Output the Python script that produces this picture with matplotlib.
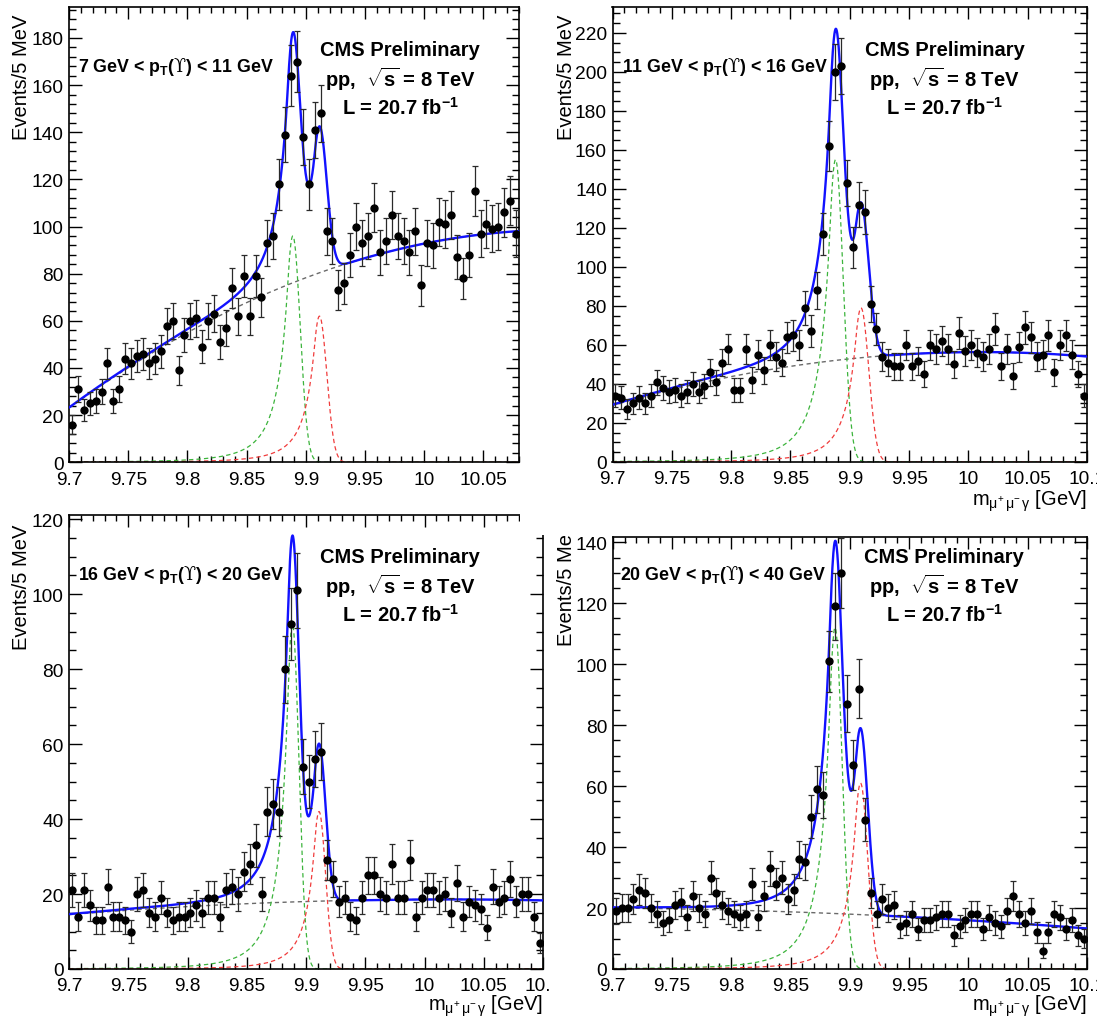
import numpy as np
import matplotlib
matplotlib.use("Agg")
import matplotlib.pyplot as plt
from matplotlib.ticker import MultipleLocator, FormatStrFormatter
from matplotlib.patches import Rectangle
from matplotlib.transforms import Bbox

plt.rcParams["font.family"] = ["Liberation Sans", "DejaVu Sans"]
plt.rcParams["mathtext.fontset"] = "custom"
plt.rcParams["mathtext.rm"] = "Liberation Sans"
plt.rcParams["mathtext.bf"] = "Liberation Sans:bold"
plt.rcParams["mathtext.it"] = "Liberation Sans:italic"
plt.rcParams["mathtext.sf"] = "DejaVu Serif"

# ---------------- data (events per 5 MeV bin, starting at 9.70 GeV) -------------
BIN_LO = 9.70
BIN_W = 0.005

counts_1 = [16, 31, 22, 25, 26, 30, 42, 26, 31, 44,
            42, 45, 46, 42, 44, 47, 58, 60, 39, 54,
            60, 61, 49, 60, 63, 51, 57, 74, 62, 79,
            62, 79, 70, 93, 96, 118, 139, 164, 170, 138,
            118, 141, 148, 98, 94, 73, 76, 88, 100, 93,
            96, 108, 89, 94, 105, 96, 94, 89, 98, 75,
            93, 92, 102, 101, 105, 87, 78, 88, 115, 97,
            101, 99, 100, 106, 111, 97]

counts_2 = [34, 33, 27, 30, 33, 30, 34, 41, 38, 36,
            37, 34, 36, 40, 36, 39, 46, 41, 51, 58,
            37, 37, 58, 42, 55, 47, 60, 54, 51, 64,
            65, 60, 79, 67, 88, 117, 162, 200, 203, 143,
            110, 132, 128, 81, 68, 54, 51, 49, 49, 60,
            49, 52, 45, 60, 58, 62, 58, 50, 66, 57,
            60, 56, 54, 58, 68, 49, 58, 44, 59, 69,
            64, 54, 55, 65, 46, 60, 65, 55, 45, 34]

counts_3 = [21, 14, 21, 17, 13, 13, 22, 14, 14, 13,
            10, 20, 21, 15, 14, 19, 15, 13, 14, 14,
            15, 17, 15, 19, 19, 14, 21, 22, 20, 26,
            28, 33, 20, 42, 44, 42, 80, 92, 101, 54,
            50, 56, 58, 29, 24, 18, 19, 14, 13, 19,
            25, 25, 20, 19, 28, 19, 19, 29, 14, 19,
            21, 21, 19, 20, 15, 23, 14, 18, 17, 16,
            11, 22, 18, 19, 24, 18, 20, 20, 14, 7]

counts_4 = [19, 20, 20, 23, 26, 25, 20, 18, 15, 16,
            21, 22, 17, 24, 20, 18, 30, 25, 21, 19,
            18, 17, 18, 28, 17, 24, 33, 28, 30, 23,
            26, 36, 35, 50, 59, 57, 101, 119, 130, 87,
            67, 92, 49, 25, 18, 23, 20, 21, 14, 15,
            18, 13, 16, 16, 17, 18, 18, 11, 14, 16,
            18, 18, 13, 17, 15, 14, 19, 24, 18, 15,
            19, 12, 6, 12, 18, 17, 13, 16, 11, 10]

pt_labels = ["7 GeV < p$_{\\mathbf{T}}$($\\mathsf{\u03d2}$) < 11 GeV",
             "11 GeV < p$_{\\mathbf{T}}$($\\mathsf{\u03d2}$) < 16 GeV",
             "16 GeV < p$_{\\mathbf{T}}$($\\mathsf{\u03d2}$) < 20 GeV",
             "20 GeV < p$_{\\mathbf{T}}$($\\mathsf{\u03d2}$) < 40 GeV"]

# fit model parameters
bkg_coef = [[23.0, 364.0, -438.0],
            [29.0, 176.25, -283.75],
            [14.5, 25.5, -40.0],
            [20.0, -3.25, -33.75]]
peak1 = [(9.889, 96.0), (9.888, 155.0), (9.8885, 92.0), (9.8875, 112.0)]
peak2 = [(9.9115, 62.0), (9.9095, 79.0), (9.911, 42.0), (9.909, 61.0)]
sigmas = [0.0062, 0.0065, 0.0055, 0.0060]
CB_ALPHA = 0.7
CB_N = 3.0

x_max = [10.08, 10.1, 10.1, 10.1]
y_max = [193.0, 233.3, 121.1, 141.6]
y_minor = [4, 5, 5, 5]

# ---------------- layout (pixels) ----------------
W, H = 1097, 1020
axes_px = [(69, 8.3, 519, 463.3), (612.5, 8, 1087, 463),
           (69, 516, 543, 970), (612.7, 538.4, 1087, 970)]
text_x_cms = [400, 944.5, 400, 944]
text_y_cms = [(50, 79, 108), (50, 79, 108), (557.7, 586, 615), (557.7, 586, 615)]
text_x_pt = [78, 621.5, 78, 620]
text_y_pt = [66.7, 66.7, 575, 575]
ylab_x = [22, 566, 22, 566]
ylab_top = [15, 15, 525, 521]
xlab_base = [None, 506, 1011, 1011]


def crystal_ball(x, mu, sigma, alpha, n):
    t = (x - mu) / sigma
    A = (n / alpha) ** n * np.exp(-alpha ** 2 / 2)
    B = n / alpha - alpha
    tail = A * (B - np.minimum(t, -alpha)) ** (-n)
    return np.where(t > -alpha, np.exp(-t * t / 2), tail)


fig = plt.figure(figsize=(W / 100, H / 100), dpi=100)

all_counts = [counts_1, counts_2, counts_3, counts_4]
axes = []
for i in range(4):
    x0, y0, x1, y1 = axes_px[i]
    ax = fig.add_axes([x0 / W, 1 - y1 / H, (x1 - x0) / W, (y1 - y0) / H])
    axes.append(ax)
    cnt = np.array(all_counts[i], dtype=float)
    xc = BIN_LO + BIN_W * (np.arange(len(cnt)) + 0.5)

    xx = np.linspace(BIN_LO, x_max[i], 2000)
    u = xx - BIN_LO
    c0, c1, c2 = bkg_coef[i]
    bg = c0 + c1 * u + c2 * u ** 2
    g = peak1[i][1] * crystal_ball(xx, peak1[i][0], sigmas[i], CB_ALPHA, CB_N)
    r = peak2[i][1] * crystal_ball(xx, peak2[i][0], sigmas[i], CB_ALPHA, CB_N)

    ax.plot(xx, bg, color="#6a6a6a", lw=1.0, ls=(0, (3, 2.5)), zorder=2)
    ax.plot(xx, g, color="#3cb43c", lw=0.9, ls=(0, (3.5, 2.5)), zorder=2)
    ax.plot(xx, r, color="#f03c3c", lw=0.9, ls=(0, (3.5, 2.5)), zorder=2)
    ax.plot(xx, bg + g + r, color="#1212ff", lw=1.7, zorder=3)

    ax.errorbar(xc, cnt, yerr=np.sqrt(cnt), fmt="o", ms=5, color="black",
                ecolor="#2a2a2a", elinewidth=0.9, capsize=2.2, capthick=0.9,
                zorder=4)

    ax.set_xlim(BIN_LO, x_max[i])
    ax.set_ylim(0, y_max[i])
    ax.xaxis.set_major_locator(MultipleLocator(0.05))
    ax.xaxis.set_minor_locator(MultipleLocator(0.01))
    ax.yaxis.set_major_locator(MultipleLocator(20))
    ax.yaxis.set_minor_locator(MultipleLocator(y_minor[i]))
    ax.xaxis.set_major_formatter(FormatStrFormatter("%g"))
    ax.yaxis.set_major_formatter(FormatStrFormatter("%g"))
    ax.tick_params(which="both", direction="in", top=True, right=True,
                   width=1.0, color="black", labelsize=13.8)
    ax.tick_params(axis="x", which="major", length=8.6, pad=6.0)
    ax.tick_params(axis="x", which="minor", length=4.3)
    ax.tick_params(axis="y", which="major", length=9.4, pad=4.0)
    ax.tick_params(axis="y", which="minor", length=5.0)
    for sp in ax.spines.values():
        sp.set_linewidth(1.2)

    # texts
    fig.text(text_x_cms[i] / W, 1 - text_y_cms[i][0] / H, "CMS Preliminary",
             ha="center", va="center", fontsize=14.5, fontweight="bold")
    fig.text(text_x_cms[i] / W, 1 - text_y_cms[i][1] / H,
             "pp,  $\\sqrt{\\mathbf{s}}$ = 8 TeV",
             ha="center", va="center", fontsize=14.5, fontweight="bold")
    fig.text(text_x_cms[i] / W, 1 - text_y_cms[i][2] / H,
             "L = 20.7 fb$^{\\mathbf{-1}}$",
             ha="center", va="center", fontsize=14.5, fontweight="bold")
    fig.text(text_x_pt[i] / W, 1 - text_y_pt[i] / H, pt_labels[i],
             ha="left", va="center", fontsize=12.8, fontweight="bold")

    yl = fig.text(ylab_x[i] / W, 1 - ylab_top[i] / H, "Events/5 MeV",
                  rotation=90, ha="center", va="top", fontsize=14.5)
    if i == 3:
        yl.set_clip_box(Bbox.from_extents(0, 0, W, H - 537))
        yl.set_clip_on(True)

    if xlab_base[i] is not None:
        fig.text(axes_px[i][2] / W, 1 - xlab_base[i] / H,
                 "m$_{\\mathrm{\\mu^{+}\\,\\mu^{-}\\,\\gamma}}$ [GeV]",
                 ha="right", va="baseline", fontsize=14.5)

# white areas where the original panels overlap one another
fig.add_artist(Rectangle((520 / W, 1 - 536 / H), 28 / W, 36 / H,
                         transform=fig.transFigure, fc="white", ec="none",
                         zorder=5))
fig.add_artist(Rectangle((551 / W, 1 - 1002 / H), 38 / W, 30 / H,
                         transform=fig.transFigure, fc="white", ec="none",
                         zorder=5))

fig.savefig("out.png", dpi=100)
